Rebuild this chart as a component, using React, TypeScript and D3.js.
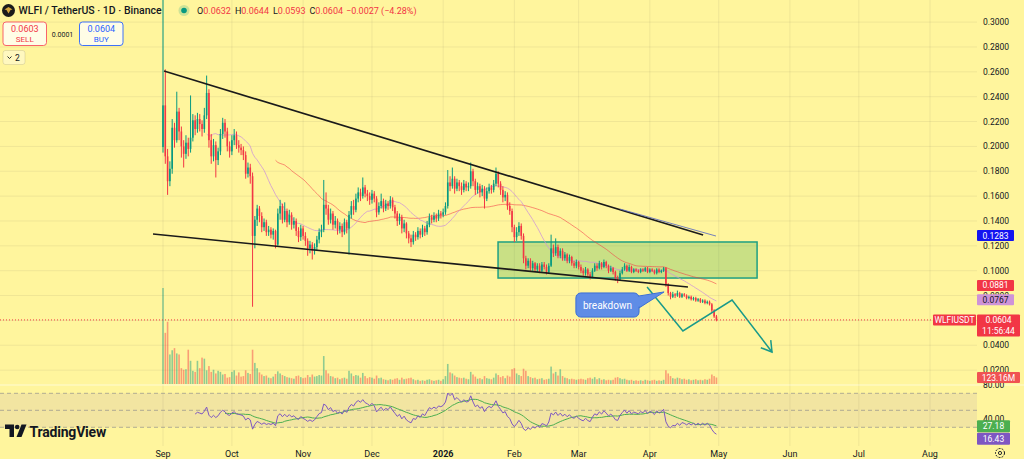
import React from "react";
import * as d3 from "d3";

// ---------- DATA ----------
const START_UTC = Date.UTC(2025, 8, 1);
const DAY = 86400000;
const FIRST_OPEN = 0.1995;

const closes = [
  0.233, 0.192, 0.172, 0.182, 0.215, 0.205, 0.228, 0.212, 0.200, 0.194,
  0.203, 0.198, 0.207, 0.221, 0.214, 0.222, 0.218, 0.214, 0.225, 0.243,
  0.205, 0.192, 0.201, 0.189, 0.196, 0.210, 0.219, 0.212, 0.200, 0.196,
  0.205, 0.209, 0.201, 0.199, 0.197, 0.193, 0.178, 0.183, 0.176, 0.128,
  0.141, 0.150, 0.144, 0.135, 0.139, 0.131, 0.133, 0.129, 0.132, 0.121,
  0.146, 0.152, 0.141, 0.148, 0.139, 0.145, 0.137, 0.140, 0.132, 0.127,
  0.134, 0.128, 0.124, 0.118, 0.121, 0.116, 0.119, 0.125, 0.131, 0.133,
  0.153, 0.150, 0.141, 0.146, 0.137, 0.140, 0.133, 0.136, 0.131, 0.139,
  0.134, 0.145, 0.152, 0.149, 0.158, 0.163, 0.160, 0.167, 0.162, 0.160,
  0.157, 0.162, 0.158, 0.147, 0.152, 0.156, 0.150, 0.154, 0.152, 0.157,
  0.151, 0.146, 0.140, 0.143, 0.134, 0.138, 0.130, 0.126, 0.123, 0.129,
  0.127, 0.132, 0.129, 0.134, 0.131, 0.137, 0.143, 0.141, 0.144, 0.142,
  0.146, 0.145, 0.147, 0.152, 0.171, 0.168, 0.174, 0.166, 0.171, 0.168,
  0.165, 0.170, 0.167, 0.168, 0.180, 0.172, 0.165, 0.168, 0.163, 0.166,
  0.158, 0.164, 0.167, 0.165, 0.170, 0.178, 0.170, 0.165, 0.159, 0.161,
  0.152, 0.148, 0.135, 0.127, 0.131, 0.136, 0.128, 0.110, 0.104, 0.108,
  0.102, 0.106, 0.101, 0.104, 0.100, 0.105, 0.103, 0.099, 0.104, 0.118,
  0.114, 0.119, 0.112, 0.116, 0.110, 0.113, 0.108, 0.111, 0.106, 0.104,
  0.107, 0.103, 0.100, 0.098, 0.101, 0.097, 0.095, 0.100, 0.104, 0.102,
  0.106, 0.103, 0.107, 0.104, 0.100, 0.102, 0.099, 0.094, 0.093, 0.098,
  0.101, 0.104, 0.100, 0.103, 0.099, 0.101, 0.100, 0.099, 0.101, 0.100,
  0.102, 0.099, 0.101, 0.100, 0.098, 0.101, 0.099, 0.100, 0.102, 0.089,
  0.082, 0.079, 0.081, 0.080, 0.082, 0.079, 0.081, 0.080, 0.078, 0.079,
  0.077, 0.078, 0.076, 0.077, 0.075, 0.076, 0.074, 0.075, 0.073, 0.068,
  0.0632, 0.0604,
];

const highs = [
  0.46, 0.262, 0.198, 0.188, 0.222, 0.219, 0.244, 0.231, 0.216, 0.205,
  0.209, 0.207, 0.241, 0.226, 0.225, 0.227, 0.226, 0.221, 0.231, 0.257,
  0.246, 0.210, 0.206, 0.204, 0.199, 0.214, 0.223, 0.222, 0.215, 0.204,
  0.209, 0.214, 0.212, 0.205, 0.202, 0.200, 0.196, 0.187, 0.186, 0.179,
  0.144, 0.153, 0.152, 0.147, 0.142, 0.141, 0.136, 0.135, 0.134, 0.133,
  0.150, 0.157, 0.154, 0.155, 0.150, 0.149, 0.147, 0.143, 0.142, 0.135,
  0.137, 0.136, 0.131, 0.126, 0.124, 0.123, 0.122, 0.128, 0.134, 0.137,
  0.173, 0.163, 0.153, 0.150, 0.148, 0.144, 0.142, 0.139, 0.138, 0.142,
  0.141, 0.148, 0.156, 0.157, 0.162, 0.167, 0.166, 0.175, 0.169, 0.165,
  0.163, 0.165, 0.164, 0.160, 0.155, 0.162, 0.158, 0.157, 0.156, 0.160,
  0.159, 0.153, 0.148, 0.146, 0.145, 0.141, 0.139, 0.132, 0.129, 0.132,
  0.131, 0.135, 0.134, 0.137, 0.136, 0.140, 0.146, 0.145, 0.147, 0.146,
  0.149, 0.148, 0.150, 0.155, 0.181, 0.176, 0.183, 0.176, 0.174, 0.173,
  0.171, 0.173, 0.172, 0.171, 0.187, 0.182, 0.174, 0.171, 0.170, 0.169,
  0.168, 0.167, 0.170, 0.169, 0.173, 0.183, 0.180, 0.172, 0.168, 0.164,
  0.163, 0.155, 0.150, 0.137, 0.135, 0.139, 0.138, 0.130, 0.112, 0.110,
  0.110, 0.108, 0.107, 0.106, 0.106, 0.107, 0.107, 0.105, 0.106, 0.129,
  0.121, 0.126, 0.121, 0.118, 0.118, 0.115, 0.114, 0.113, 0.112, 0.108,
  0.109, 0.108, 0.105, 0.102, 0.103, 0.102, 0.099, 0.102, 0.106, 0.106,
  0.108, 0.107, 0.109, 0.108, 0.105, 0.104, 0.103, 0.100, 0.096, 0.100,
  0.103, 0.106, 0.105, 0.105, 0.104, 0.102, 0.102, 0.101, 0.102, 0.102,
  0.103, 0.103, 0.102, 0.102, 0.101, 0.102, 0.102, 0.101, 0.103, 0.103,
  0.090, 0.083, 0.083, 0.082, 0.084, 0.083, 0.082, 0.082, 0.081, 0.080,
  0.080, 0.079, 0.079, 0.078, 0.078, 0.077, 0.077, 0.076, 0.076, 0.074,
  0.069, 0.0644,
];

const lows = [
  0.195, 0.186, 0.161, 0.168, 0.178, 0.199, 0.203, 0.205, 0.191, 0.183,
  0.190, 0.192, 0.195, 0.204, 0.209, 0.211, 0.212, 0.208, 0.211, 0.222,
  0.199, 0.186, 0.188, 0.175, 0.185, 0.193, 0.206, 0.207, 0.196, 0.191,
  0.193, 0.201, 0.198, 0.195, 0.193, 0.189, 0.174, 0.175, 0.170, 0.071,
  0.118, 0.136, 0.139, 0.131, 0.132, 0.128, 0.128, 0.126, 0.125, 0.118,
  0.120, 0.141, 0.138, 0.139, 0.135, 0.137, 0.133, 0.134, 0.128, 0.123,
  0.124, 0.125, 0.120, 0.112, 0.114, 0.109, 0.113, 0.116, 0.122, 0.127,
  0.131, 0.145, 0.137, 0.138, 0.133, 0.134, 0.129, 0.130, 0.127, 0.129,
  0.130, 0.113, 0.142, 0.145, 0.147, 0.155, 0.156, 0.158, 0.159, 0.156,
  0.153, 0.154, 0.155, 0.143, 0.145, 0.150, 0.147, 0.148, 0.149, 0.150,
  0.148, 0.142, 0.136, 0.137, 0.130, 0.131, 0.126, 0.122, 0.119, 0.121,
  0.124, 0.125, 0.126, 0.127, 0.128, 0.129, 0.135, 0.138, 0.139, 0.139,
  0.140, 0.142, 0.143, 0.145, 0.150, 0.164, 0.166, 0.162, 0.164, 0.164,
  0.161, 0.163, 0.164, 0.164, 0.166, 0.168, 0.161, 0.162, 0.159, 0.160,
  0.150, 0.156, 0.162, 0.162, 0.163, 0.168, 0.167, 0.161, 0.155, 0.156,
  0.149, 0.145, 0.131, 0.123, 0.124, 0.128, 0.125, 0.106, 0.101, 0.102,
  0.100, 0.100, 0.099, 0.099, 0.098, 0.099, 0.101, 0.097, 0.098, 0.103,
  0.111, 0.112, 0.110, 0.110, 0.108, 0.108, 0.106, 0.106, 0.104, 0.102,
  0.102, 0.101, 0.098, 0.096, 0.096, 0.095, 0.093, 0.094, 0.099, 0.100,
  0.101, 0.101, 0.102, 0.102, 0.098, 0.099, 0.097, 0.092, 0.090, 0.092,
  0.097, 0.100, 0.099, 0.099, 0.098, 0.098, 0.099, 0.098, 0.098, 0.099,
  0.099, 0.098, 0.098, 0.099, 0.097, 0.097, 0.098, 0.098, 0.099, 0.087,
  0.080, 0.077, 0.078, 0.078, 0.079, 0.078, 0.078, 0.079, 0.077, 0.077,
  0.076, 0.076, 0.075, 0.075, 0.074, 0.074, 0.073, 0.073, 0.072, 0.066,
  0.062, 0.0593,
];

const volumesM = [
  1820, 970, 1180, 560, 640, 680, 580, 560, 300, 270,
  280, 650, 440, 250, 230, 440, 300, 500, 480, 260,
  340, 230, 270, 200, 250, 230, 180, 190, 120, 130,
  230, 260, 160, 220, 140, 150, 260, 210, 190, 650,
  400, 300, 220, 180, 150, 160, 120, 110, 140, 190,
  240, 200, 170, 150, 130, 120, 110, 100, 150, 160,
  130, 110, 120, 170, 130, 180, 140, 150, 170, 160,
  530, 260, 200, 150, 140, 110, 120, 90, 110, 120,
  100, 250, 200, 150, 170, 160, 120, 210, 150, 110,
  130, 120, 100, 160, 110, 120, 90, 80, 70, 90,
  80, 100, 110, 80, 120, 90, 100, 110, 120, 90,
  70, 80, 60, 70, 60, 80, 90, 70, 60, 70,
  80, 60, 90, 150, 380, 220, 200, 160, 130, 120,
  110, 120, 100, 90, 230, 180, 140, 100, 110, 90,
  150, 110, 100, 90, 120, 200, 170, 130, 150, 110,
  160, 140, 280, 300, 200, 170, 150, 290, 250, 150,
  130, 110, 120, 90, 100, 110, 80, 90, 100, 330,
  200, 230, 160, 280, 150, 120, 110, 90, 100, 90,
  80, 90, 100, 90, 80, 110, 120, 100, 130, 90,
  110, 80, 90, 70, 80, 70, 80, 120, 130, 110,
  90, 100, 80, 70, 80, 60, 70, 60, 70, 60,
  80, 70, 60, 70, 80, 60, 70, 60, 80, 260,
  200, 150, 110, 100, 120, 110, 90, 100, 80, 90,
  70, 80, 90, 70, 80, 70, 90, 80, 100, 180,
  150, 123.16,
];

// 0.0600 is fully hidden under the last-price tag in the reference, so it is not drawn
const priceTicks = [0.3, 0.28, 0.26, 0.24, 0.22, 0.2, 0.18, 0.16, 0.14, 0.12, 0.1, 0.08, 0.04, 0.02];
const gridTicks = [0.3, 0.28, 0.26, 0.24, 0.22, 0.2, 0.18, 0.16, 0.14, 0.12, 0.1, 0.08, 0.06, 0.04, 0.02];
const monthTicks: [number, number, number, string, boolean][] = [
  [2025, 8, 1, "Sep", false], [2025, 9, 1, "Oct", false], [2025, 10, 1, "Nov", false],
  [2025, 11, 1, "Dec", false], [2026, 0, 1, "2026", true], [2026, 1, 1, "Feb", false],
  [2026, 2, 1, "Mar", false], [2026, 3, 1, "Apr", false], [2026, 4, 1, "May", false],
  [2026, 5, 1, "Jun", false], [2026, 6, 1, "Jul", false], [2026, 7, 1, "Aug", false],
];
const rsiBands = [70, 50, 30];
const rsiAxisTicks = [80, 40];

// drawings (day offset from Sep 1 2025, price)
const upperTrend = [[0.44, 0.2606], [235.2, 0.1287]];
const lowerTrend = [[-4.35, 0.1295], [228.6, 0.0869]];
const blueTrend = [[199.0, 0.1496], [240.8, 0.1279]];
const zone = { d0: 145.9, d1: 258.7, p0: 0.1231, p1: 0.0941 };
const zigzag = [[210.8, 0.0869], [226.4, 0.0515], [247.8, 0.0764], [265.2, 0.0346]];
const callout = { d0: 179.8, d1: 207.3, p0: 0.0821, p1: 0.0627, tipD: 218.2, tipP: 0.0829, text: "breakdown" };

const lastPrice = 0.0604;
const ma20Last = 0.0767;
const ma50Last = 0.0881;
const blueLast = 0.1283;
const rsiLast = 16.43;
const rsiMaLast = 27.18;
const lastVolLabel = "123.16M";

const FONT = "Roboto, 'Noto Sans', 'DejaVu Sans', sans-serif";
const UP = "#089981";
const DOWN = "#f23645";
const BG = "#fff59d";

function sma(arr: (number | null)[], n: number) {
  const out: (number | null)[] = arr.map(() => null);
  for (let i = 0; i < arr.length; i++) {
    if (i < n - 1) continue;
    let s = 0, ok = true;
    for (let k = i - n + 1; k <= i; k++) { const v = arr[k]; if (v == null) { ok = false; break; } s += v; }
    if (ok) out[i] = s / n;
  }
  return out;
}

function rsiCalc(c: number[], n: number) {
  const out: (number | null)[] = c.map(() => null);
  let g = 0, l = 0;
  for (let i = 1; i <= n; i++) { const ch = c[i] - c[i - 1]; if (ch > 0) g += ch; else l -= ch; }
  g /= n; l /= n;
  out[n] = l === 0 ? 100 : 100 - 100 / (1 + g / l);
  for (let i = n + 1; i < c.length; i++) {
    const ch = c[i] - c[i - 1];
    g = (g * (n - 1) + Math.max(ch, 0)) / n;
    l = (l * (n - 1) + Math.max(-ch, 0)) / n;
    out[i] = l === 0 ? 100 : 100 - 100 / (1 + g / l);
  }
  return out;
}

function Tag({ x, yc, w, h, bg, color, text, text2 }: any) {
  const hh = text2 ? h * 2 : h;
  return (
    <g>
      <rect x={x} y={yc - h / 2} width={w} height={hh} fill={bg} rx={1} />
      <text x={x + w / 2} y={yc + 3} fontSize={8.5} fill={color} textAnchor="middle" fontFamily={FONT}>{text}</text>
      {text2 && <text x={x + w / 2} y={yc + h + 3} fontSize={8.5} fill={color} textAnchor="middle" fontFamily={FONT}>{text2}</text>}
    </g>
  );
}

export default function App() {
  const W = 1024, H = 459;
  const PLOT_R = 977;
  const MAIN_B = 384;
  const RSI_T = 386, RSI_B = 446;

  const dayDate = (d: number) => new Date(START_UTC + d * DAY);
  const dates = closes.map((_, i) => dayDate(i));
  const x = d3.scaleUtc().domain([new Date(START_UTC), new Date(Date.UTC(2026, 7, 1))]).range([163, 930]);
  const y = d3.scaleLinear().domain([0, 0.3]).range([395, 22.1]);
  const vMax = d3.max(volumesM) as number;
  const vh = d3.scaleLinear().domain([0, vMax]).range([0, 96]);
  const ry = d3.scaleLinear().domain([0, 100]).range([452.8, 367.8]);
  const px = (d: number) => x(dayDate(d));

  const opens = closes.map((c, i) => (i === 0 ? FIRST_OPEN : closes[i - 1]));
  const ma20 = sma(closes, 20);
  const ma50 = sma(closes, 50);
  const rsi = rsiCalc(closes, 14);
  const rsiMa = sma(rsi, 14);

  const lineGen = d3.line<[Date, number | null]>()
    .defined((d) => d[1] != null)
    .x((d) => x(d[0]))
    .y((d) => y(d[1] as number));
  const rsiLine = d3.line<[Date, number | null]>()
    .defined((d) => d[1] != null)
    .x((d) => x(d[0]))
    .y((d) => ry(d[1] as number));

  const bw = 1.6;

  const seg = (pts: number[][]) => pts.map((p) => [px(p[0]), y(p[1])]);
  const up = seg(upperTrend), lo = seg(lowerTrend), bl = seg(blueTrend), zz = seg(zigzag);
  const zzPath = d3.line()(zz as [number, number][]) as string;
  const [ax, ay] = zz[zz.length - 1];
  const [bx, by] = zz[zz.length - 2];
  const ang = Math.atan2(ay - by, ax - bx);
  const ah = 12;
  const a1 = [ax - ah * Math.cos(ang - 0.55), ay - ah * Math.sin(ang - 0.55)];
  const a2 = [ax - ah * Math.cos(ang + 0.55), ay - ah * Math.sin(ang + 0.55)];

  const cx0 = px(callout.d0), cx1 = px(callout.d1), cy0 = y(callout.p0), cy1 = y(callout.p1);
  const tipX = px(callout.tipD), tipY = y(callout.tipP);

  const tagRsiY = ry(rsiLast);
  const tagRsiMaY = Math.min(ry(rsiMaLast), tagRsiY - 12.5);

  return (
    <svg width={W} height={H} style={{ position: "fixed", left: 0, top: 0, display: "block" }} fontFamily={FONT}>
      <defs>
        <clipPath id="mainClip"><rect x={0} y={0} width={PLOT_R} height={MAIN_B} /></clipPath>
        <clipPath id="rsiClip"><rect x={0} y={RSI_T} width={PLOT_R} height={RSI_B - RSI_T} /></clipPath>
      </defs>
      <rect x={0} y={0} width={W} height={H} fill={BG} />

      {/* grid */}
      {monthTicks.map((m, i) => {
        const gx = x(new Date(Date.UTC(m[0], m[1], m[2])));
        return <line key={"vg" + i} x1={gx} x2={gx} y1={0} y2={RSI_B} stroke="rgba(42,46,57,0.07)" />;
      })}
      {gridTicks.map((p, i) => (
        <line key={"hg" + i} x1={0} x2={PLOT_R} y1={y(p)} y2={y(p)} stroke="rgba(42,46,57,0.07)" />
      ))}

      {/* pane separator */}
      <line x1={0} x2={W} y1={MAIN_B + 1} y2={MAIN_B + 1} stroke="rgba(255,255,255,0.55)" strokeWidth={1} />

      {/* RSI pane */}
      <rect x={0} y={ry(70)} width={PLOT_R} height={ry(30) - ry(70)} fill="rgba(126,87,194,0.1)" />
      {rsiBands.map((b) => (
        <line key={"rb" + b} x1={0} x2={PLOT_R} y1={ry(b)} y2={ry(b)} stroke="rgba(120,123,134,0.7)" strokeDasharray="4,3" strokeWidth={0.8} />
      ))}
      <g clipPath="url(#rsiClip)">
        <path d={rsiLine(dates.map((d, i) => [d, rsiMa[i]]) as any) as string} fill="none" stroke="#4caf50" strokeWidth={1} />
        <path d={rsiLine(dates.map((d, i) => [d, rsi[i]]) as any) as string} fill="none" stroke="#7e57c2" strokeWidth={1} />
      </g>

      <g clipPath="url(#mainClip)">
        {/* volume */}
        {volumesM.map((v, i) => {
          const upC = closes[i] >= opens[i];
          const h = vh(v);
          return <rect key={"v" + i} x={x(dates[i]) - bw / 2} y={MAIN_B - h} width={bw} height={h} fill={upC ? "rgba(8,153,129,0.45)" : "rgba(242,54,69,0.45)"} />;
        })}

        {/* zone */}
        <rect x={px(zone.d0)} y={y(zone.p0)} width={px(zone.d1) - px(zone.d0)} height={y(zone.p1) - y(zone.p0)}
          fill="rgba(76,175,80,0.3)" stroke="#1f9f83" strokeWidth={1.5} />

        {/* MAs */}
        <path d={lineGen(dates.map((d, i) => [d, ma50[i]]) as any) as string} fill="none" stroke="rgba(242,54,69,0.55)" strokeWidth={1} />
        <path d={lineGen(dates.map((d, i) => [d, ma20[i]]) as any) as string} fill="none" stroke="rgba(206,147,216,0.75)" strokeWidth={1} />

        {/* candles */}
        {closes.map((c, i) => {
          const o = opens[i];
          const upC = c >= o;
          const col = upC ? UP : DOWN;
          const cx = x(dates[i]);
          const hi = Math.max(highs[i], o, c), lw = Math.min(lows[i], o, c);
          const top = y(Math.max(o, c)), bot = y(Math.min(o, c));
          return (
            <g key={"c" + i}>
              <rect x={cx - 0.5} y={y(hi)} width={1} height={y(lw) - y(hi)} fill={col} />
              <rect x={cx - bw / 2} y={top} width={bw} height={Math.max(1, bot - top)} fill={col} />
            </g>
          );
        })}

        {/* trend lines */}
        <line x1={up[0][0]} y1={up[0][1]} x2={up[1][0]} y2={up[1][1]} stroke="#1a1a1a" strokeWidth={1.6} />
        <line x1={lo[0][0]} y1={lo[0][1]} x2={lo[1][0]} y2={lo[1][1]} stroke="#1a1a1a" strokeWidth={1.6} />
        <line x1={bl[0][0]} y1={bl[0][1]} x2={bl[1][0]} y2={bl[1][1]} stroke="rgba(92,107,192,0.85)" strokeWidth={1} />

        {/* zigzag arrow */}
        <path d={zzPath} fill="none" stroke="#1a9a8a" strokeWidth={1.5} />
        <path d={`M${a1[0]},${a1[1]}L${ax},${ay}L${a2[0]},${a2[1]}`} fill="none" stroke="#1a9a8a" strokeWidth={1.5} />

        {/* callout */}
        <path d={`M${cx1 - 6},${cy0 + 4} L${tipX},${tipY} L${cx1},${cy0 + 15}`} fill="#5f8de6" stroke="#3b6fd6" strokeWidth={1} />
        <rect x={cx0} y={cy0} width={cx1 - cx0} height={cy1 - cy0} rx={5} fill="#5f8de6" stroke="#3b6fd6" strokeWidth={1} />
        <path d={`M${cx1 - 6},${cy0 + 4.6} L${tipX - 2},${tipY + 1} L${cx1 - 0.6},${cy0 + 14}`} fill="#5f8de6" stroke="none" />
        <text x={(cx0 + cx1) / 2} y={(cy0 + cy1) / 2 + 3.5} fontSize={10} fill="#ffffff" textAnchor="middle">{callout.text}</text>

        {/* last price dotted line */}
        <line x1={0} x2={PLOT_R} y1={y(lastPrice)} y2={y(lastPrice)} stroke="#f23645" strokeWidth={1} strokeDasharray="1,2" />
      </g>

      {/* price axis labels */}
      {priceTicks.map((p, i) => (
        <text key={"pl" + i} x={983} y={y(p) + 3} fontSize={8.5} fill="#131722">{p.toFixed(4)}</text>
      ))}
      {rsiAxisTicks.map((r) => (
        <text key={"rl" + r} x={983} y={ry(r) + 3} fontSize={8.5} fill="#131722">{r.toFixed(2)}</text>
      ))}

      {/* time axis labels */}
      {monthTicks.map((m, i) => {
        const gx = x(new Date(Date.UTC(m[0], m[1], m[2])));
        return (
          <text key={"tl" + i} x={gx} y={457} fontSize={9} fill="#131722" textAnchor="middle" fontWeight={m[4] ? 700 : 400}>{m[3]}</text>
        );
      })}
      {/* settings icon */}
      <circle cx={1000} cy={453} r={4.5} fill="none" stroke="#131722" strokeWidth={1} strokeDasharray="2,1.2" />
      <circle cx={1000} cy={453} r={1.6} fill="none" stroke="#131722" strokeWidth={0.9} />

      {/* tags */}
      <Tag x={977} yc={y(blueLast)} w={37} h={11} bg="#1414f0" color="#ffffff" text={blueLast.toFixed(4)} />
      <Tag x={977} yc={y(ma50Last)} w={37} h={11} bg="#f23645" color="#ffffff" text={ma50Last.toFixed(4)} />
      <Tag x={977} yc={y(ma20Last)} w={37} h={11} bg="#ce93d8" color="#131722" text={ma20Last.toFixed(4)} />
      <Tag x={977} yc={y(lastPrice)} w={43} h={11} bg="#f23645" color="#ffffff" text={lastPrice.toFixed(4)} text2="11:56:44" />
      <Tag x={933} yc={y(lastPrice)} w={43} h={11} bg="#f23645" color="#ffffff" text="WLFIUSDT" />
      <Tag x={977} yc={MAIN_B - vh(volumesM[volumesM.length - 1])} w={43} h={11} bg="#f05252" color="#ffffff" text={lastVolLabel} />
      <Tag x={977} yc={tagRsiMaY} w={33} h={12} bg="#4caf50" color="#ffffff" text={rsiMaLast.toFixed(2)} />
      <Tag x={977} yc={tagRsiY} w={33} h={12} bg="#7e57c2" color="#ffffff" text={rsiLast.toFixed(2)} />

      {/* header */}
      <circle cx={8.5} cy={10.5} r={6.5} fill="#1b1b1b" />
      <path d="M4.5,9.5 L8.5,7 L12.5,9.5 L10.5,10 L8.5,13.5 L6.5,10 Z" fill="#d4a53c" />
      <text x={18.5} y={14.2} fontSize={10.5} fontWeight={500} fill="#131722">WLFI / TetherUS · 1D · Binance</text>
      <circle cx={184} cy={10.5} r={5.5} fill="rgba(8,153,129,0.2)" />
      <circle cx={184} cy={10.5} r={2.8} fill="#089981" />
      <text x={197} y={13.8} fontSize={9} fill="#131722">
        <tspan>O</tspan><tspan fill="#f23645">0.0632</tspan>
        <tspan dx={4}>H</tspan><tspan fill="#f23645">0.0644</tspan>
        <tspan dx={4}>L</tspan><tspan fill="#f23645">0.0593</tspan>
        <tspan dx={4}>C</tspan><tspan fill="#f23645">0.0604</tspan>
        <tspan dx={3} fill="#f23645">−0.0027 (−4.28%)</tspan>
      </text>

      {/* sell/buy */}
      <rect x={3} y={22} width={43.5} height={23.5} rx={3} fill="rgba(255,255,255,0.75)" stroke="#f7525f" strokeWidth={0.9} />
      <text x={24.75} y={31.5} fontSize={9} fill="#f23645" textAnchor="middle">0.0603</text>
      <text x={24.75} y={42} fontSize={8} fill="#f23645" textAnchor="middle">SELL</text>
      <text x={62.5} y={36.5} fontSize={7} fill="#131722" textAnchor="middle">0.0001</text>
      <rect x={79.5} y={22} width={43.5} height={23.5} rx={3} fill="rgba(255,255,255,0.75)" stroke="#2962ff" strokeWidth={0.9} />
      <text x={101.25} y={31.5} fontSize={9} fill="#2962ff" textAnchor="middle">0.0604</text>
      <text x={101.25} y={42} fontSize={8} fill="#2962ff" textAnchor="middle">BUY</text>
      <rect x={3} y={50.5} width={22} height={14} rx={2.5} fill="rgba(255,255,255,0.35)" stroke="rgba(42,46,57,0.15)" strokeWidth={0.8} />
      <path d="M7.5,56.5 L9.5,58.5 L11.5,56.5" fill="none" stroke="#131722" strokeWidth={0.9} />
      <text x={15} y={60.8} fontSize={8.5} fill="#131722">2</text>

      {/* TradingView logo */}
      <path d="M5,424.5 H14 V437 H9.5 V429 H5 Z" fill="#131722" />
      <circle cx={17.2} cy={427} r={2.3} fill="#131722" />
      <path d="M16.5,437 L21.5,424.5 H26.5 L21.5,437 Z" fill="#131722" />
      <text x={29.5} y={436.5} fontSize={14} fontWeight={700} fill="#131722" letterSpacing={-0.2}>TradingView</text>
    </svg>
  );
}
